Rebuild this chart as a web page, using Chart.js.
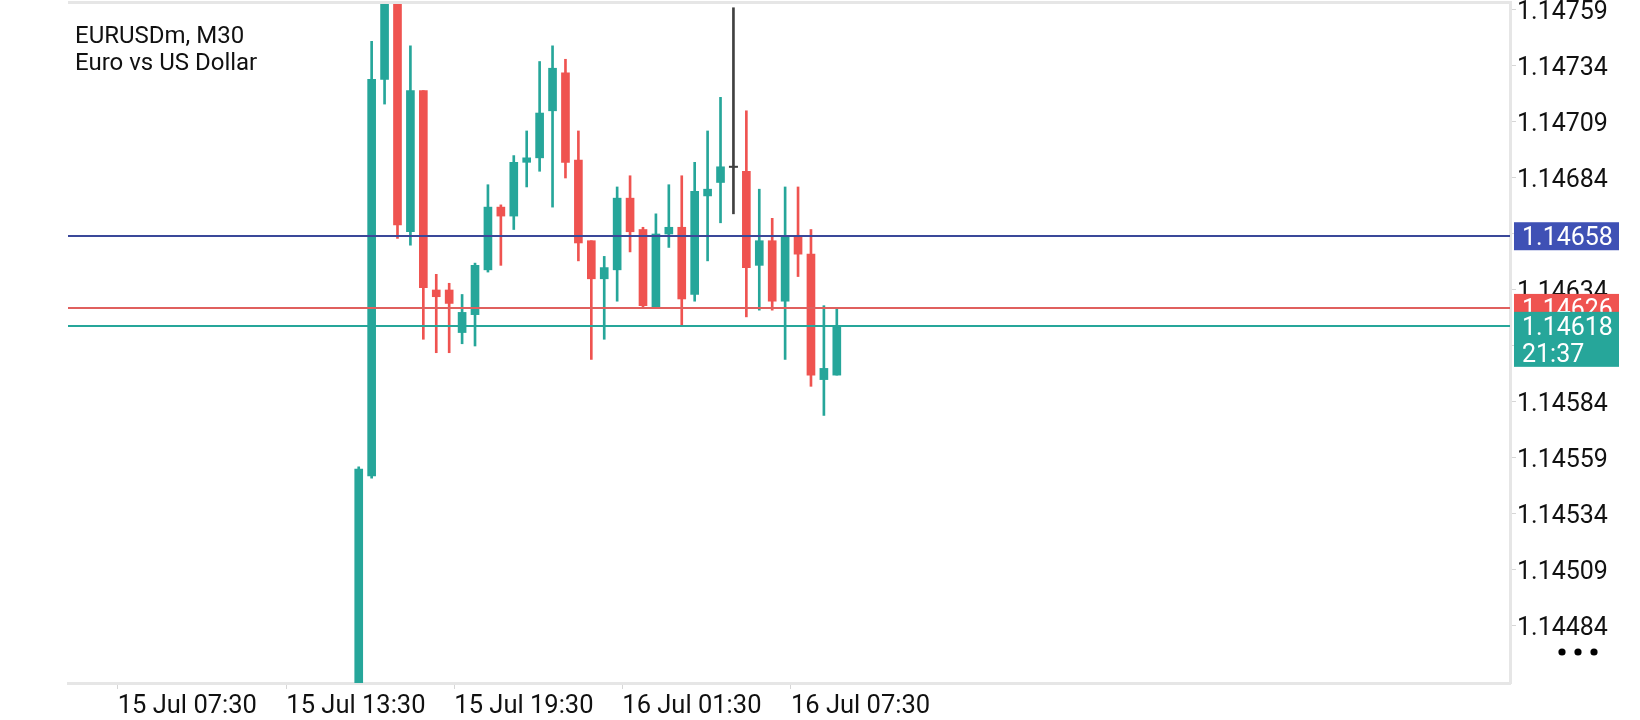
<!DOCTYPE html>
<html>
<head>
<meta charset="utf-8">
<script src="https://cdn.jsdelivr.net/npm/chart.js@4.4.1/dist/chart.umd.min.js"></script>
<style>
html,body{margin:0;padding:0;background:#fff;overflow:hidden}
#wrap{width:1640px;height:720px;position:relative}
canvas{display:block}
</style>
</head>
<body>
<div id="wrap"><canvas id="c" width="1640" height="720"></canvas></div>
<script>
// ---------- DATA ----------
const symbolLine = 'EURUSDm, M30';
const descLine = 'Euro vs US Dollar';

const opens  = [1.14430,1.14551,1.14728,1.14768,1.14660,1.14723,1.14634,1.14634,1.14615,1.14623,
                1.14643,1.14671,1.14667,1.14691,1.14693,1.14714,1.14731,1.14692,1.14656,1.14639,
                1.14643,1.14675,1.14661,1.14626,1.14659,1.14662,1.14632,1.14676,1.14682,1.14689,
                1.14687,1.14645,1.14656,1.14629,1.14658,1.14650,1.14594,1.14596];
const highs  = [1.14555,1.14745,1.14772,1.14772,1.14743,1.14723,1.14641,1.14637,1.14632,1.14646,
                1.14681,1.14672,1.14694,1.14705,1.14736,1.14743,1.14737,1.14705,1.14656,1.14649,
                1.14680,1.14685,1.14662,1.14668,1.14681,1.14685,1.14691,1.14705,1.14720,1.14760,
                1.14714,1.14679,1.14666,1.14680,1.14680,1.14661,1.14627,1.14626];
const lows   = [1.14428,1.14550,1.14717,1.14657,1.14654,1.14612,1.14606,1.14606,1.14610,1.14609,
                1.14642,1.14645,1.14661,1.14680,1.14687,1.14671,1.14684,1.14647,1.14603,1.14612,
                1.14629,1.14651,1.14626,1.14626,1.14653,1.14618,1.14629,1.14647,1.14664,1.14668,
                1.14622,1.14625,1.14625,1.14603,1.14640,1.14591,1.14578,1.14596];
const closes = [1.14554,1.14728,1.14768,1.14663,1.14723,1.14635,1.14631,1.14628,1.14624,1.14645,
                1.14671,1.14667,1.14691,1.14693,1.14713,1.14733,1.14691,1.14655,1.14639,1.14644,
                1.14675,1.14660,1.14627,1.14659,1.14662,1.14630,1.14678,1.14679,1.14689,1.14689,
                1.14644,1.14656,1.14629,1.14658,1.14650,1.14596,1.14599,1.14618];

const xTickAt     = [-18.65, -5.6, 7.4, 20.4, 33.45];
const xTickLabels = ['15 Jul 07:30', '15 Jul 13:30', '15 Jul 19:30', '16 Jul 01:30', '16 Jul 07:30'];
const yTickValues = [1.14484,1.14509,1.14534,1.14559,1.14584,1.14609,1.14634,1.14659,1.14684,1.14709,1.14734,1.14759];

const xMin = -22.5, xMax = 89.1;
const yMin = 1.1445855, yMax = 1.1476257;

const levelPrice = 1.14658;
const askPrice   = 1.14626;
const bidPrice   = 1.14618;
const barTimer   = '21:37';

// ---------- STYLE ----------
const UP = '#26A69A', DOWN = '#EF5350', DOJI = '#404040';
const FONT = 'Roboto';
const BORDER = '#E6E6E6';

const candleColor = opens.map((o, i) => closes[i] > o ? UP : (closes[i] < o ? DOWN : DOJI));
const bodies = opens.map((o, i) => ({x: i, y: [o, closes[i]]}));
const wicks  = lows.map((l, i) => ({x: i, y: [l, highs[i]]}));
const dojis  = opens.map((o, i) => ({x: i, y: closes[i], d: o === closes[i]})).filter(p => p.d);

const priceMarks = [
  {value: levelPrice, line: '#3A4899', box: '#3F51B5', lines: [levelPrice.toFixed(5)]},
  {value: askPrice,   line: '#E0605E', box: '#EF5350', lines: [askPrice.toFixed(5)]},
  {value: bidPrice,   line: '#26A69A', box: '#26A69A', lines: [bidPrice.toFixed(5), barTimer]}
];

const overlay = {
  id: 'overlay',
  afterDatasetsDraw(chart) {
    const {ctx, chartArea: a, scales: {y}} = chart;
    ctx.save();
    ctx.lineWidth = 2;
    priceMarks.forEach(m => {
      const py = Math.round(y.getPixelForValue(m.value));
      ctx.strokeStyle = m.line;
      ctx.beginPath();
      ctx.moveTo(a.left, py);
      ctx.lineTo(a.right, py);
      ctx.stroke();
    });
    ctx.restore();
  },
  afterDraw(chart) {
    const {ctx, chartArea: a, scales: {y}} = chart;
    ctx.save();
    // top frame line
    ctx.fillStyle = BORDER;
    ctx.fillRect(a.left, a.top - 1, a.right - a.left + 1.5, 3);
    // price boxes
    ctx.font = '25px ' + FONT;
    ctx.textBaseline = 'middle';
    ctx.textAlign = 'left';
    const bx = a.right + 4, bw = 105, lh = 27;
    priceMarks.forEach(m => {
      const py = y.getPixelForValue(m.value);
      const top = py - 14;
      const h = 28 + (m.lines.length - 1) * lh;
      ctx.fillStyle = m.box;
      ctx.fillRect(bx, top, bw, h);
      ctx.fillStyle = '#FFFFFF';
      m.lines.forEach((t, k) => ctx.fillText(t, bx + 8, py + 2.5 + k * lh));
    });
    // three dots menu
    ctx.fillStyle = '#000';
    [1562, 1578, 1594].forEach(cx => { ctx.beginPath(); ctx.arc(cx, 652, 3.6, 0, Math.PI * 2); ctx.fill(); });
    // title
    ctx.fillStyle = '#111';
    ctx.font = '24px ' + FONT;
    ctx.textBaseline = 'alphabetic';
    ctx.fillText(symbolLine, 75, 43);
    ctx.fillText(descLine, 75, 70);
    ctx.restore();
  }
};

new Chart(document.getElementById('c'), {
  type: 'bar',
  data: {
    datasets: [
      {type: 'scatter', data: dojis, pointStyle: 'line', radius: 4.5, borderWidth: 2,
       borderColor: DOJI, backgroundColor: DOJI, clip: 0, order: 0},
      {data: bodies, backgroundColor: candleColor, borderWidth: 0, barThickness: 8,
       grouped: false, clip: 0, order: 1},
      {data: wicks, backgroundColor: candleColor, borderWidth: 0, barThickness: 2,
       grouped: false, clip: 0, order: 2}
    ]
  },
  options: {
    responsive: false,
    animation: false,
    events: [],
    layout: {autoPadding: false, padding: {left: 68, top: 2, right: 0, bottom: 0}},
    plugins: {legend: {display: false}, tooltip: {enabled: false}, title: {display: false}},
    scales: {
      x: {
        type: 'linear', min: xMin, max: xMax, offset: false,
        afterBuildTicks: s => { s.ticks = xTickAt.map(v => ({value: v})); },
        afterFit: s => { s.height = 37; s.paddingLeft = 0; s.paddingRight = 0; },
        ticks: {
          callback: (v, i) => xTickLabels[i],
          font: {family: FONT, size: 25.5}, color: '#111',
          align: 'start', maxRotation: 0, minRotation: 0, autoSkip: false, padding: 2
        },
        grid: {offset: false, drawOnChartArea: false, drawTicks: true, tickLength: 6, color: '#D6D6D6'},
        border: {display: true, color: BORDER, width: 3}
      },
      y: {
        type: 'linear', position: 'right', min: yMin, max: yMax,
        afterBuildTicks: s => { s.ticks = yTickValues.map(v => ({value: v})); },
        afterFit: s => { s.width = 130; s.paddingTop = 0; s.paddingBottom = 0; },
        ticks: {
          callback: v => v.toFixed(5),
          font: {family: FONT, size: 25}, color: '#111',
          padding: 1, autoSkip: false, labelOffset: 3
        },
        grid: {drawOnChartArea: false, drawTicks: true, tickLength: 6, color: '#D6D6D6'},
        border: {display: true, color: BORDER, width: 3}
      }
    }
  },
  plugins: [overlay]
});
</script>
</body>
</html>
